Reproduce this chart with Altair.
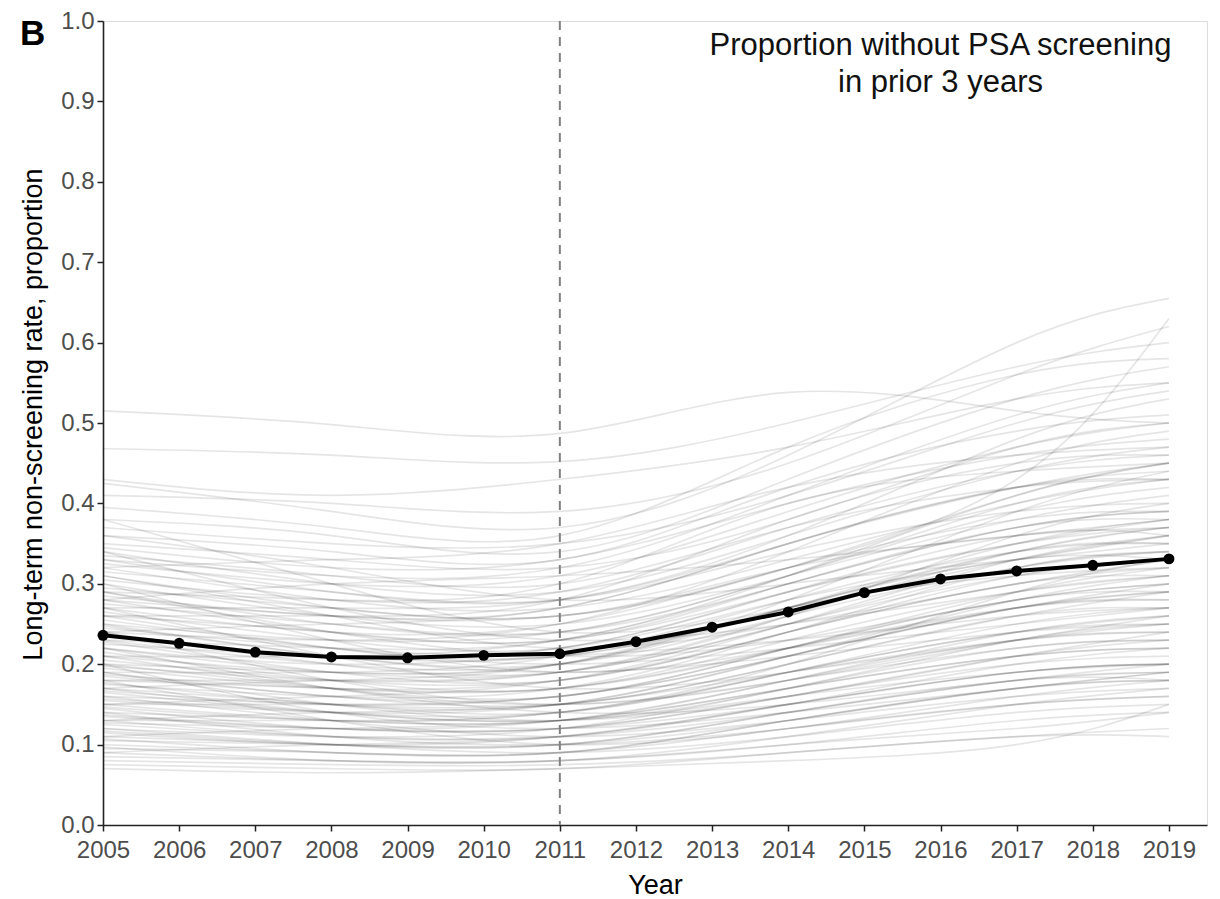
import altair as alt
import pandas as pd

# ---- data ----
years = list(range(2005, 2020))
mean_rate = [0.236, 0.226, 0.215, 0.209, 0.208, 0.211, 0.213, 0.228,
             0.246, 0.265, 0.289, 0.306, 0.316, 0.323, 0.331]

# each grey trajectory is read at these years
knot_years = [2005, 2008, 2011, 2014, 2017, 2019]

high_lines = [
    [0.515, 0.498, 0.487, 0.538, 0.515, 0.500],
    [0.468, 0.460, 0.452, 0.500, 0.570, 0.600],
    [0.430, 0.410, 0.430, 0.470, 0.530, 0.550],
    [0.425, 0.390, 0.370, 0.460, 0.600, 0.655],
    [0.410, 0.400, 0.390, 0.450, 0.560, 0.620],
    [0.395, 0.370, 0.360, 0.470, 0.560, 0.580],
    [0.380, 0.360, 0.340, 0.430, 0.530, 0.570],
    [0.370, 0.350, 0.350, 0.410, 0.500, 0.540],
    [0.360, 0.340, 0.330, 0.420, 0.490, 0.510],
    [0.350, 0.330, 0.320, 0.380, 0.470, 0.500],
    [0.280, 0.260, 0.260, 0.320, 0.430, 0.630],
]

upper_lines = [
    [0.345, 0.320, 0.330, 0.400, 0.460, 0.480],
    [0.340, 0.300, 0.290, 0.360, 0.440, 0.470],
    [0.335, 0.310, 0.300, 0.370, 0.420, 0.430],
    [0.330, 0.290, 0.280, 0.350, 0.420, 0.450],
    [0.325, 0.300, 0.310, 0.390, 0.470, 0.500],
    [0.320, 0.280, 0.270, 0.330, 0.400, 0.430],
    [0.315, 0.290, 0.280, 0.340, 0.390, 0.400],
    [0.310, 0.270, 0.260, 0.320, 0.410, 0.450],
    [0.305, 0.280, 0.290, 0.370, 0.440, 0.460],
    [0.300, 0.260, 0.250, 0.310, 0.380, 0.410],
    [0.295, 0.270, 0.260, 0.320, 0.360, 0.370],
    [0.290, 0.250, 0.240, 0.310, 0.390, 0.420],
    [0.285, 0.260, 0.270, 0.350, 0.420, 0.440],
    [0.280, 0.240, 0.230, 0.290, 0.350, 0.380],
    [0.275, 0.250, 0.240, 0.300, 0.370, 0.390],
    [0.270, 0.240, 0.250, 0.320, 0.380, 0.390],
    [0.265, 0.230, 0.220, 0.280, 0.330, 0.360],
    [0.260, 0.240, 0.230, 0.300, 0.370, 0.380],
]

middle_lines = [
    [0.255, 0.220, 0.210, 0.270, 0.340, 0.370],
    [0.250, 0.230, 0.240, 0.310, 0.400, 0.430],
    [0.248, 0.210, 0.200, 0.260, 0.320, 0.340],
    [0.245, 0.220, 0.220, 0.290, 0.350, 0.370],
    [0.240, 0.200, 0.190, 0.250, 0.310, 0.330],
    [0.235, 0.210, 0.210, 0.270, 0.340, 0.350],
    [0.230, 0.200, 0.200, 0.270, 0.350, 0.380],
    [0.228, 0.190, 0.180, 0.240, 0.300, 0.320],
    [0.225, 0.210, 0.220, 0.290, 0.360, 0.360],
    [0.220, 0.190, 0.190, 0.250, 0.320, 0.340],
    [0.215, 0.180, 0.170, 0.230, 0.290, 0.310],
    [0.210, 0.190, 0.200, 0.270, 0.330, 0.330],
    [0.205, 0.180, 0.180, 0.240, 0.310, 0.330],
    [0.200, 0.170, 0.160, 0.220, 0.280, 0.300],
    [0.198, 0.180, 0.190, 0.260, 0.340, 0.370],
    [0.195, 0.170, 0.170, 0.220, 0.270, 0.280],
    [0.190, 0.160, 0.160, 0.220, 0.290, 0.320],
    [0.187, 0.170, 0.180, 0.240, 0.300, 0.310],
    [0.185, 0.160, 0.150, 0.200, 0.260, 0.290],
    [0.180, 0.170, 0.170, 0.220, 0.280, 0.290],
    [0.177, 0.150, 0.150, 0.210, 0.270, 0.300],
    [0.175, 0.160, 0.170, 0.240, 0.320, 0.340],
    [0.170, 0.150, 0.140, 0.190, 0.240, 0.260],
    [0.167, 0.150, 0.160, 0.210, 0.270, 0.280],
    [0.165, 0.140, 0.140, 0.190, 0.250, 0.270],
    [0.160, 0.150, 0.150, 0.200, 0.260, 0.270],
]

lower_lines = [
    [0.157, 0.140, 0.130, 0.170, 0.230, 0.250],
    [0.155, 0.140, 0.150, 0.210, 0.280, 0.310],
    [0.150, 0.130, 0.130, 0.170, 0.210, 0.220],
    [0.147, 0.130, 0.140, 0.190, 0.240, 0.250],
    [0.145, 0.120, 0.120, 0.160, 0.210, 0.230],
    [0.140, 0.130, 0.130, 0.180, 0.230, 0.240],
    [0.137, 0.120, 0.120, 0.150, 0.190, 0.200],
    [0.135, 0.120, 0.130, 0.180, 0.240, 0.260],
    [0.130, 0.110, 0.110, 0.150, 0.200, 0.220],
    [0.127, 0.120, 0.120, 0.160, 0.200, 0.210],
    [0.125, 0.110, 0.110, 0.140, 0.180, 0.190],
    [0.120, 0.110, 0.120, 0.170, 0.220, 0.230],
    [0.117, 0.100, 0.100, 0.140, 0.180, 0.200],
    [0.115, 0.100, 0.110, 0.150, 0.190, 0.200],
    [0.110, 0.100, 0.100, 0.130, 0.170, 0.180],
    [0.107, 0.090, 0.090, 0.130, 0.170, 0.190],
    [0.105, 0.100, 0.100, 0.140, 0.180, 0.180],
    [0.100, 0.090, 0.090, 0.120, 0.150, 0.160],
    [0.097, 0.080, 0.080, 0.110, 0.150, 0.170],
    [0.095, 0.090, 0.090, 0.130, 0.170, 0.180],
    [0.090, 0.080, 0.080, 0.100, 0.130, 0.140],
    [0.085, 0.080, 0.080, 0.100, 0.120, 0.140],
    [0.080, 0.075, 0.075, 0.090, 0.110, 0.110],
    [0.075, 0.070, 0.070, 0.090, 0.110, 0.120],
    [0.070, 0.065, 0.070, 0.080, 0.100, 0.150],
]

crossing_lines = [
    [0.260, 0.220, 0.200, 0.220, 0.250, 0.270],
    [0.220, 0.200, 0.210, 0.230, 0.260, 0.270],
    [0.180, 0.180, 0.190, 0.260, 0.360, 0.400],
    [0.150, 0.160, 0.180, 0.250, 0.330, 0.360],
    [0.310, 0.260, 0.220, 0.250, 0.300, 0.330],
    [0.290, 0.240, 0.210, 0.230, 0.280, 0.300],
    [0.200, 0.190, 0.200, 0.280, 0.390, 0.440],
    [0.240, 0.230, 0.250, 0.340, 0.450, 0.490],
    [0.130, 0.130, 0.140, 0.200, 0.290, 0.330],
    [0.360, 0.320, 0.280, 0.300, 0.330, 0.350],
    [0.120, 0.100, 0.090, 0.110, 0.140, 0.150],
    [0.170, 0.140, 0.130, 0.160, 0.190, 0.200],
    [0.210, 0.170, 0.150, 0.180, 0.220, 0.230],
    [0.270, 0.270, 0.280, 0.360, 0.480, 0.530],
    [0.230, 0.220, 0.230, 0.310, 0.410, 0.450],
    [0.190, 0.150, 0.130, 0.160, 0.210, 0.240],
    [0.160, 0.130, 0.110, 0.130, 0.160, 0.170],
    [0.250, 0.210, 0.190, 0.210, 0.240, 0.250],
    [0.330, 0.310, 0.320, 0.410, 0.510, 0.550],
    [0.140, 0.110, 0.100, 0.120, 0.150, 0.160],
]

wavy_lines = [
    [0.320, 0.330, 0.350, 0.420, 0.460, 0.470],
    [0.280, 0.300, 0.310, 0.330, 0.360, 0.380],
    [0.240, 0.250, 0.270, 0.350, 0.420, 0.430],
    [0.210, 0.210, 0.230, 0.300, 0.370, 0.390],
    [0.190, 0.190, 0.210, 0.280, 0.340, 0.350],
    [0.170, 0.180, 0.200, 0.270, 0.310, 0.320],
    [0.150, 0.150, 0.160, 0.210, 0.270, 0.290],
    [0.130, 0.140, 0.150, 0.190, 0.230, 0.240],
    [0.110, 0.120, 0.130, 0.170, 0.210, 0.220],
    [0.090, 0.100, 0.110, 0.150, 0.190, 0.200],
    [0.380, 0.300, 0.240, 0.270, 0.330, 0.360],
    [0.340, 0.270, 0.230, 0.250, 0.290, 0.310],
    [0.300, 0.230, 0.190, 0.220, 0.270, 0.290],
    [0.270, 0.210, 0.170, 0.190, 0.230, 0.250],
    [0.240, 0.180, 0.150, 0.180, 0.230, 0.260],
    [0.220, 0.170, 0.140, 0.150, 0.180, 0.190],
    [0.200, 0.140, 0.120, 0.140, 0.170, 0.190],
    [0.180, 0.130, 0.100, 0.120, 0.160, 0.180],
    [0.290, 0.280, 0.300, 0.400, 0.440, 0.450],
    [0.260, 0.260, 0.280, 0.380, 0.450, 0.460],
]

y_ticks = [0.0, 0.1, 0.2, 0.3, 0.4, 0.5, 0.6, 0.7, 0.8, 0.9, 1.0]
policy_year = [2011]
note_text = ["Proportion without PSA screening", "in prior 3 years"]
note_year = [2016, 2016]
note_rate = [0.958, 0.912]
panel_tag = ["B"]

# ---- tables ----
rows = []
line_id = 0
for group in (high_lines, upper_lines, middle_lines, lower_lines,
              crossing_lines, wavy_lines):
    for series in group:
        for yr, v in zip(knot_years, series):
            rows.append({"line": line_id, "year": yr, "rate": v})
        line_id += 1
grey_df = pd.DataFrame(rows)
mean_df = pd.DataFrame({"year": years, "rate": mean_rate})
rule_df = pd.DataFrame({"year": policy_year})
note_df = pd.DataFrame({"year": note_year, "rate": note_rate, "text": note_text})
tag_df = pd.DataFrame({"text": panel_tag})

FONT = "Liberation Sans"
W, H = 1104, 804

x_scale = alt.Scale(domain=[2005, 2019.5], nice=False, zero=False)
y_scale = alt.Scale(domain=[0, 1], nice=False, zero=True)

x_axis = alt.Axis(
    values=years, format="d", title="Year", grid=False,
    labelFontSize=24, labelColor="#4d4d4d", labelPadding=7, labelFont=FONT,
    labelOverlap=False, labelFlush=False, labelBound=False,
    tickSize=6, tickWidth=1.5, tickColor="#222222",
    domainColor="#222222", domainWidth=1.6,
    titleFontSize=27, titleFontWeight="normal", titleColor="#000000", titleFont=FONT,
    titleY=68, titleBaseline="alphabetic",
)
y_axis = alt.Axis(
    values=y_ticks, format=".1f", title="Long-term non-screening rate, proportion",
    grid=False,
    labelFontSize=24, labelColor="#4d4d4d", labelPadding=3, labelFont=FONT,
    labelOverlap=False, labelFlush=False, labelBound=False,
    tickSize=6, tickWidth=1.5, tickColor="#222222",
    domainColor="#222222", domainWidth=1.6,
    titleFontSize=27, titleFontWeight="normal", titleColor="#000000", titleFont=FONT,
    titleX=-62, titleY=393, titleBaseline="alphabetic", titleAlign="center",
)

grey = alt.Chart(grey_df).mark_line(
    interpolate="natural", color="black", opacity=0.1, strokeWidth=1.7
).encode(
    x=alt.X("year:Q", scale=x_scale, axis=x_axis),
    y=alt.Y("rate:Q", scale=y_scale, axis=y_axis),
    detail="line:N",
)

rule = alt.Chart(rule_df).mark_rule(
    color="#808080", strokeWidth=2, strokeDash=[9, 7]
).encode(x=alt.X("year:Q", scale=x_scale))

mean_line = alt.Chart(mean_df).mark_line(color="black", strokeWidth=4).encode(
    x=alt.X("year:Q", scale=x_scale), y=alt.Y("rate:Q", scale=y_scale)
)
mean_pts = alt.Chart(mean_df).mark_circle(color="black", size=120, opacity=1).encode(
    x=alt.X("year:Q", scale=x_scale), y=alt.Y("rate:Q", scale=y_scale)
)

note = alt.Chart(note_df).mark_text(
    font=FONT, fontSize=31, color="#111111", align="center", baseline="alphabetic"
).encode(
    x=alt.X("year:Q", scale=x_scale), y=alt.Y("rate:Q", scale=y_scale), text="text:N"
)

tag = alt.Chart(tag_df).mark_text(
    font=FONT, fontSize=35, fontWeight="bold", color="#000000",
    align="left", baseline="alphabetic"
).encode(x=alt.value(-83), y=alt.value(24), text="text:N")

chart = alt.layer(grey, rule, mean_line, mean_pts, note, tag).properties(
    width=W, height=H,
    autosize=alt.AutoSizeParams(type="none"),
    padding={"left": 95, "top": 13, "right": 5, "bottom": 74},
    background="white",
).configure_view(stroke=None).configure(font=FONT)

chart.save("out.html", embed_options={"renderer": "svg", "actions": False})
